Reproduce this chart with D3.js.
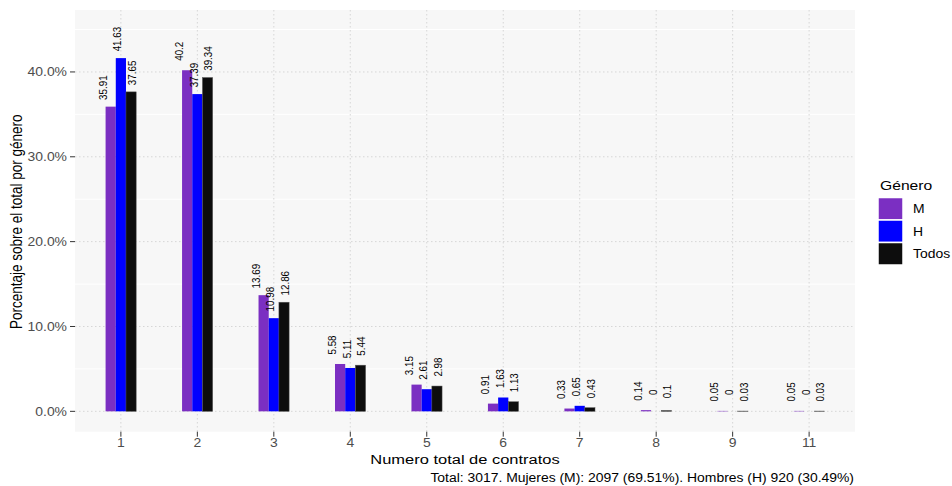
<!DOCTYPE html>
<html>
<head>
<meta charset="utf-8">
<script src="https://cdn.jsdelivr.net/npm/d3@7/dist/d3.min.js"></script>
<style>
  body { margin: 0; background: #fff; }
  svg text { font-family: "Liberation Sans", Arial, sans-serif; }
</style>
</head>
<body>
<svg id="chart" width="952" height="486"></svg>
<script>
// data
var categories = ["1", "2", "3", "4", "5", "6", "7", "8", "9", "11"];
var generos = ["M", "H", "Todos"];
var valuesM = [35.91, 40.2, 13.69, 5.58, 3.15, 0.91, 0.33, 0.14, 0.05, 0.05];
var valuesH = [41.63, 37.39, 10.98, 5.11, 2.61, 1.63, 0.65, 0, 0, 0];
var valuesTodos = [37.65, 39.34, 12.86, 5.44, 2.98, 1.13, 0.43, 0.1, 0.03, 0.03];
var yTicks = [0, 10, 20, 30, 40];
var yMinor = [5, 15, 25, 35, 45];
var caption = "Total: 3017. Mujeres (M): 2097 (69.51%). Hombres (H) 920 (30.49%)";

var colors = { M: "#7B2FC2", H: "#0000FF", Todos: "#0D0D0D" };
var series = { M: valuesM, H: valuesH, Todos: valuesTodos };

// the reference text is a bit wider than it is tall
var stretch = 1.16;

var svg = d3.select("#chart");
var panel = { left: 75, right: 855, top: 10, bottom: 431.7 };

var x = d3.scalePoint()
    .domain(categories)
    .range([panel.left, panel.right])
    .padding(0.6);
var step = x.step();
var groupW = step * 0.4;
var xs = d3.scaleBand().domain(generos).range([-groupW / 2, groupW / 2]);

var y = d3.scaleLinear()
    .domain([-2.4, 47.3])
    .range([panel.bottom, panel.top]);

function wideText(sel, tx, ty, sx) {
    return sel.attr("transform", (d, i) => {
        let px = typeof tx == "function" ? tx(d, i) : tx;
        let py = typeof ty == "function" ? ty(d, i) : ty;
        return `translate(${px},${py}) scale(${sx},1)`;
    });
}

// panel
svg.append("rect")
    .attr("x", panel.left).attr("y", panel.top)
    .attr("width", panel.right - panel.left)
    .attr("height", panel.bottom - panel.top)
    .attr("fill", "#F7F7F7");

// minor grid
svg.append("g").selectAll("line")
    .data(yMinor)
    .enter().append("line")
    .attr("x1", panel.left).attr("x2", panel.right)
    .attr("y1", d => y(d)).attr("y2", d => y(d))
    .attr("stroke", "#fff").attr("stroke-width", 1);

// major grid (dotted)
svg.append("g").selectAll("line")
    .data(yTicks)
    .enter().append("line")
    .attr("x1", panel.left).attr("x2", panel.right)
    .attr("y1", d => y(d)).attr("y2", d => y(d))
    .attr("stroke", "#D6D6D6").attr("stroke-dasharray", "1.5,2.5");

svg.append("g").selectAll("line")
    .data(categories)
    .enter().append("line")
    .attr("x1", d => x(d)).attr("x2", d => x(d))
    .attr("y1", panel.top).attr("y2", panel.bottom)
    .attr("stroke", "#D6D6D6").attr("stroke-dasharray", "1.5,2.5");

// bars
var rows = [];
categories.forEach(function (c, i) {
    generos.forEach(function (g, j) {
        rows.push({ cat: c, gen: g, idx: j, value: series[g][i] });
    });
});

svg.append("g").selectAll("rect")
    .data(rows)
    .enter().append("rect")
    .attr("x", d => x(d.cat) + xs(d.gen))
    .attr("width", xs.bandwidth())
    .attr("y", d => y(d.value))
    .attr("height", d => y(0) - y(d.value))
    .attr("fill", d => colors[d.gen])
    .attr("stroke", d => d.gen == "Todos" ? "#555" : "none")
    .attr("stroke-width", d => d.gen == "Todos" ? 0.5 : 0);

// value labels
var labelStep = 14.6;
svg.append("g").selectAll("text")
    .data(rows)
    .enter().append("text")
    .attr("transform", function (d) {
        let lx = x(d.cat) + (d.idx - 1) * labelStep - 3.6;
        let ly = y(d.value) - 19;
        return `translate(${lx},${ly}) rotate(-90) scale(1,${stretch})`;
    })
    .attr("text-anchor", "middle")
    .attr("dy", "0.35em")
    .attr("font-size", "9.8px")
    .attr("fill", "#000")
    .text(d => String(d.value));

// y axis
var yAxis = svg.append("g");
yAxis.selectAll("line")
    .data(yTicks)
    .enter().append("line")
    .attr("x1", panel.left - 5).attr("x2", panel.left)
    .attr("y1", d => y(d)).attr("y2", d => y(d))
    .attr("stroke", "#333");
wideText(yAxis.selectAll("text")
    .data(yTicks)
    .enter().append("text"), panel.left - 8, d => y(d), stretch)
    .attr("dy", "0.35em")
    .attr("text-anchor", "end")
    .attr("font-size", "12px")
    .attr("fill", "#4D4D4D")
    .text(d => d3.format(".1f")(d) + "%");

// x axis
var xAxis = svg.append("g");
xAxis.selectAll("line")
    .data(categories)
    .enter().append("line")
    .attr("x1", d => x(d)).attr("x2", d => x(d))
    .attr("y1", panel.bottom).attr("y2", panel.bottom + 5)
    .attr("stroke", "#333");
wideText(xAxis.selectAll("text")
    .data(categories)
    .enter().append("text"), d => x(d), 443, stretch)
    .attr("dy", "0.35em")
    .attr("text-anchor", "middle")
    .attr("font-size", "12px")
    .attr("fill", "#4D4D4D")
    .text(d => d);

// titles
wideText(svg.append("text"), (panel.left + panel.right) / 2, 459, 1.22)
    .attr("dy", "0.35em")
    .attr("text-anchor", "middle")
    .attr("font-size", "13.5px")
    .attr("fill", "#000")
    .text("Numero total de contratos");

svg.append("text")
    .attr("transform", `translate(17,${(panel.top + panel.bottom) / 2 + 1}) rotate(-90) scale(1,${stretch})`)
    .attr("text-anchor", "middle")
    .attr("dy", "0.35em")
    .attr("font-size", "13.5px")
    .attr("fill", "#000")
    .text("Porcentaje sobre el total por género");

wideText(svg.append("text"), panel.right - 1, 478, stretch)
    .attr("dy", "0.35em")
    .attr("text-anchor", "end")
    .attr("font-size", "12px")
    .attr("fill", "#000")
    .text(caption);

// legend
var legend = svg.append("g").attr("transform", "translate(878,0)");
wideText(legend.append("text"), 2, 185, stretch)
    .attr("dy", "0.35em")
    .attr("font-size", "13.5px")
    .attr("fill", "#000")
    .text("Género");
var key = legend.selectAll("g.key")
    .data(generos)
    .enter().append("g")
    .attr("class", "key")
    .attr("transform", (d, i) => `translate(0,${197.5 + i * 22.5})`);
key.append("rect")
    .attr("width", 25).attr("height", 22.5)
    .attr("fill", d => colors[d])
    .attr("stroke", "#fff").attr("stroke-width", 1.5);
wideText(key.append("text"), 35, 11.5, stretch)
    .attr("dy", "0.35em")
    .attr("font-size", "12px")
    .attr("fill", "#000")
    .text(d => d);
</script>
</body>
</html>
